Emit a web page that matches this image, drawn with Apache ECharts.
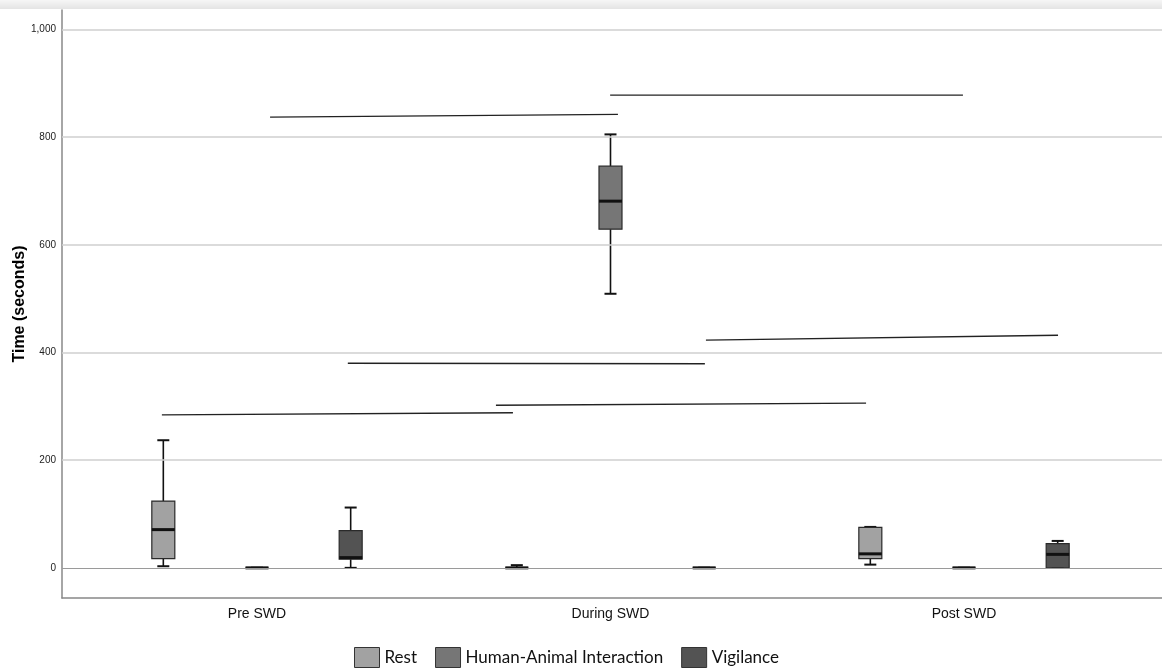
<!DOCTYPE html>
<html>
<head>
<meta charset="utf-8">
<script src="https://cdn.jsdelivr.net/npm/echarts@6/dist/echarts.min.js"></script>
<style>
html, body { margin: 0; padding: 0; background: #fff; }
#chart { width: 1162px; height: 671px; }
</style>
</head>
<body>
<div id="chart"></div>
<script>
var categories = ['Pre SWD', 'During SWD', 'Post SWD'];
var seriesNames = ['Rest', 'Human-Animal Interaction', 'Vigilance'];

// [min, Q1, median, Q3, max] for each phase
var restStats = [[3, 17, 71, 124, 237], [0, 0, 0, 0, 5], [6, 17, 26, 75, 76]];
var haiStats = [[0, 0, 0, 0, 0], [509, 629, 681, 746, 805], [0, 0, 0, 0, 0]];
var vigStats = [[0, 16, 19, 69, 112], [0, 0, 0, 0, 0], [0, 0, 25, 45, 50]];

var yTicks = [0, 200, 400, 600, 800, 1000];

// comparison lines: [x1, y1, x2, y2], x in phase units (0 = Pre SWD)
var brackets = [
	[0.037, 837, 1.021, 842],
	[0.999, 878, 1.997, 878],
	[0.257, 380, 1.267, 379],
	[1.270, 423, 2.266, 432],
	[-0.269, 284, 0.724, 288],
	[0.676, 302, 1.723, 306]
];

var statsList = [restStats, haiStats, vigStats];
var colors = ['#a2a2a2', '#767676', '#535353'];
var offsets = [-0.265, 0, 0.265];

function renderBox(params, api)
{
	var x = api.value(0);
	var lo = api.coord([x, api.value(1)]);
	var q1 = api.coord([x, api.value(2)]);
	var md = api.coord([x, api.value(3)]);
	var q3 = api.coord([x, api.value(4)]);
	var hi = api.coord([x, api.value(5)]);
	var cx = lo[0], hw = 11.5, cw = 6;
	var line = function(x1, y1, x2, y2, w)
	{
		return { type: 'line', shape: { x1: x1, y1: y1, x2: x2, y2: y2 }, style: { stroke: '#111', lineWidth: w } };
	};
	return {
		type: 'group',
		children: [
			line(cx, lo[1], cx, q1[1], 1.6),
			line(cx, q3[1], cx, hi[1], 1.6),
			line(cx - cw, lo[1], cx + cw, lo[1], 2),
			line(cx - cw, hi[1], cx + cw, hi[1], 2),
			{ type: 'rect', shape: { x: cx - hw, y: q3[1], width: hw * 2, height: q1[1] - q3[1] },
			  style: { fill: api.visual('color'), stroke: '#2a2a2a', lineWidth: 1.2 } },
			line(cx - hw, md[1], cx + hw, md[1], 3)
		]
	};
}

var series = [];

series.push({
	type: 'line',
	data: [],
	silent: true,
	z: 1,
	markLine: {
		symbol: 'none',
		silent: true,
		animation: false,
		label: { show: false },
		lineStyle: { color: '#cfcfcf', width: 1.5, type: 'solid' },
		data: yTicks.map(function(v)
		{
			var d = { yAxis: v };
			if (v === 0) d.lineStyle = { color: '#9a9a9a', width: 1, type: 'solid' };
			return d;
		})
	}
});

statsList.forEach(function(stats, s)
{
	series.push({
		name: seriesNames[s],
		type: 'custom',
		renderItem: renderBox,
		itemStyle: { color: colors[s] },
		encode: { x: 0, y: [1, 2, 3, 4, 5] },
		data: stats.map(function(st, i) { return [i + offsets[s]].concat(st); }),
		z: 3
	});
});

brackets.forEach(function(b)
{
	series.push({
		type: 'line',
		data: [[b[0], b[1]], [b[2], b[3]]],
		symbol: 'none',
		silent: true,
		lineStyle: { color: '#222', width: 1.3 },
		z: 4
	});
});

var chart = echarts.init(document.getElementById('chart'));
chart.setOption({
	animation: false,
	backgroundColor: '#fff',
	graphic: [{
		type: 'rect',
		shape: { x: 0, y: 0, width: 1162, height: 9 },
		style: { fill: new echarts.graphic.LinearGradient(0, 0, 0, 1, [{ offset: 0, color: '#f6f6f6' }, { offset: 1, color: '#e4e4e4' }]) },
		z: -1
	}],
	grid: { left: 62, right: 0, top: 10, bottom: 73, outerBoundsMode: 'none' },
	legend: {
		data: seriesNames,
		left: 354,
		top: 647,
		padding: 0,
		itemWidth: 25,
		itemHeight: 20,
		itemGap: 18,
		icon: 'rect',
		itemStyle: { borderColor: '#333', borderWidth: 1 },
		textStyle: { fontFamily: 'Lato', fontSize: 17, color: '#111' }
	},
	xAxis: {
		type: 'value',
		min: -0.5516,
		max: 2.5601,
		splitLine: { show: false },
		axisTick: { show: false },
		axisLine: { show: true, onZero: false, lineStyle: { color: '#888', width: 1.5 } },
		axisLabel: {
			customValues: [0, 1, 2],
			formatter: function(v) { return categories[Math.round(v)]; },
			fontFamily: 'Liberation Sans',
			fontSize: 14,
			color: '#111',
			margin: 9
		}
	},
	yAxis: {
		type: 'value',
		min: -56,
		max: 1036,
		name: 'Time (seconds)',
		nameLocation: 'middle',
		nameGap: 34,
		nameMoveOverlap: false,
		nameTextStyle: { fontFamily: 'Liberation Sans', fontWeight: 'bold', fontSize: 16, color: '#000' },
		splitLine: { show: false },
		axisTick: { show: false },
		axisLine: { show: true, onZero: false, lineStyle: { color: '#888', width: 1.5 } },
		axisLabel: {
			customValues: yTicks,
			formatter: function(v) { return v.toLocaleString('en-US'); },
			fontFamily: 'Liberation Sans',
			fontSize: 10,
			color: '#222',
			margin: 6
		}
	},
	series: series
});
</script>
</body>
</html>
